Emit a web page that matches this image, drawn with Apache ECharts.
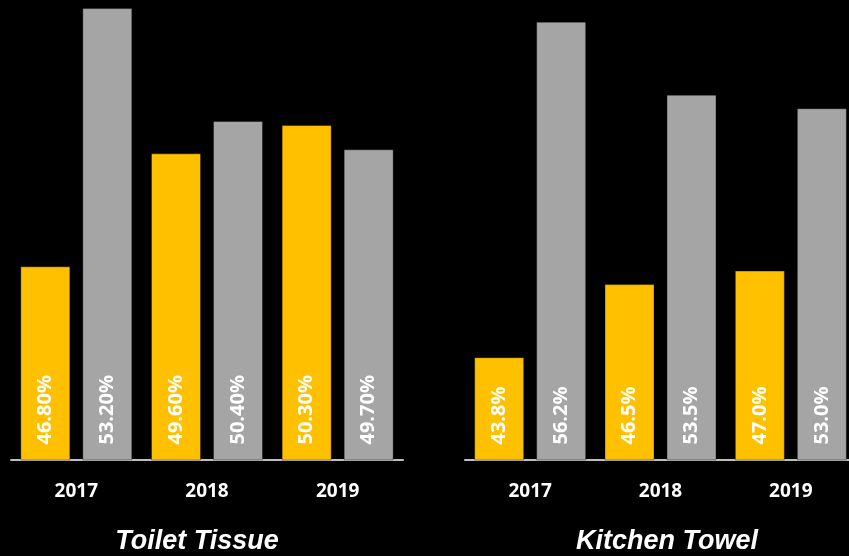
<!DOCTYPE html>
<html>
<head>
<meta charset="utf-8">
<script src="https://cdn.jsdelivr.net/npm/echarts@6/dist/echarts.min.js"></script>
<style>
  html, body { margin: 0; padding: 0; background: #000; }
  #chart { width: 849px; height: 556px; }
</style>
</head>
<body>
<div id="chart"></div>
<script>
  // data
  var years = ['2017', '2018', '2019'];
  var tissueA = [46.8, 49.6, 50.3];   // yellow
  var tissueB = [53.2, 50.4, 49.7];   // gray
  var towelA = [43.8, 46.5, 47.0];
  var towelB = [56.2, 53.5, 53.0];
  var panelTitles = ['Toilet Tissue', 'Kitchen Towel'];

  var yellow = '#FFC000';
  var gray = '#A5A5A5';
  var font = '"Open Sans", Lato, sans-serif';

  function barLabel(decimals) {
    return {
      show: true,
      position: 'insideBottom',
      rotate: 90,
      align: 'left',
      verticalAlign: 'middle',
      distance: 16,
      color: '#fff',
      fontWeight: 'bold',
      fontSize: 20,
      fontFamily: font,
      formatter: function(p) {
        return p.value.toFixed(decimals) + '%';
      }
    };
  }

  function makeBar(data, color, idx, decimals) {
    return {
      type: 'bar',
      xAxisIndex: idx,
      yAxisIndex: idx,
      data: data,
      barWidth: 50,
      barGap: '24%',
      itemStyle: { color: color, borderColor: 'rgba(0,0,0,0.35)', borderWidth: 1 },
      label: barLabel(decimals),
      silent: true
    };
  }

  var xAxisCommon = {
    type: 'category',
    data: years,
    axisTick: { show: false },
    axisLine: { lineStyle: { color: '#BFBFBF', width: 2 } },
    axisLabel: { color: '#fff', fontWeight: 'bold', fontSize: 19, fontFamily: font, margin: 22 }
  };

  var titleStyle = {
    color: '#fff',
    fontSize: 27,
    fontStyle: 'italic',
    fontWeight: 'bold',
    fontFamily: '"Liberation Sans", Arial, sans-serif'
  };

  var option = {
    backgroundColor: '#000',
    animation: false,
    title: [{
      text: panelTitles[0],
      left: 192,
      textAlign: 'center',
      top: 523,
      textStyle: titleStyle
    }, {
      text: panelTitles[1],
      left: 662,
      textAlign: 'center',
      top: 523,
      textStyle: titleStyle
    }],
    grid: [
      { left: 11, width: 392, top: 0, bottom: 96, containLabel: false, outerBoundsMode: 'none' },
      { left: 465, width: 391, top: 0, bottom: 96, containLabel: false, outerBoundsMode: 'none' }
    ],
    xAxis: [
      Object.assign({ gridIndex: 0 }, xAxisCommon),
      Object.assign({ gridIndex: 1 }, xAxisCommon)
    ],
    yAxis: [
      { gridIndex: 0, type: 'value', min: 42, max: 53.4, show: false },
      { gridIndex: 1, type: 'value', min: 40, max: 57, show: false }
    ],
    series: [
      makeBar(tissueA, yellow, 0, 2),
      makeBar(tissueB, gray, 0, 2),
      makeBar(towelA, yellow, 1, 1),
      makeBar(towelB, gray, 1, 1)
    ]
  };

  var myChart = echarts.init(document.getElementById('chart'));
  myChart.setOption(option);
</script>
</body>
</html>
